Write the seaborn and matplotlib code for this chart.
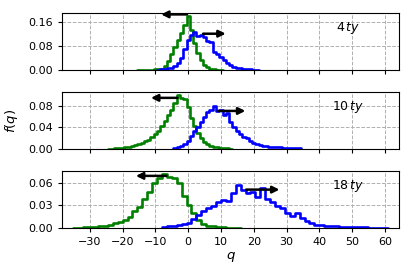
import numpy as np
import pandas as pd
import seaborn as sns
import matplotlib
matplotlib.use("Agg")
import matplotlib.pyplot as plt

# histogram heights: (first bin edge, bin width, heights)
green_4ty = (-15.5, 1.0, [0.0003, 0.0005, 0.0006, 0.0008, 0.001, 0.0015, 0.002, 0.004, 0.012, 0.03,
                          0.055, 0.078, 0.1, 0.124, 0.15, 0.18, 0.136, 0.09, 0.056, 0.034,
                          0.018, 0.009, 0.004, 0.002, 0.001, 0.0005])
blue_4ty = (-9.5, 1.0, [0.001, 0.002, 0.003, 0.005, 0.008, 0.013, 0.022, 0.04, 0.07, 0.1,
                        0.118, 0.127, 0.115, 0.118, 0.11, 0.098, 0.095, 0.062, 0.055, 0.045,
                        0.034, 0.025, 0.017, 0.011, 0.007, 0.005, 0.003, 0.002, 0.0015, 0.001, 0.0008])

green_10ty = (-24.5, 1.0, [0.0005, 0.0008, 0.001, 0.0015, 0.002, 0.003, 0.004, 0.005, 0.007, 0.009,
                           0.011, 0.014, 0.017, 0.022, 0.027, 0.033, 0.042, 0.052, 0.063, 0.073,
                           0.085, 0.1, 0.095, 0.093, 0.078, 0.058, 0.042, 0.03, 0.02, 0.013,
                           0.009, 0.006, 0.004, 0.003, 0.002, 0.0015, 0.001, 0.0008])
blue_10ty = (-4.5, 1.0, [0.001, 0.003, 0.005, 0.01, 0.015, 0.025, 0.033, 0.04, 0.05, 0.06,
                         0.068, 0.072, 0.08, 0.07, 0.073, 0.063, 0.067, 0.05, 0.04, 0.033,
                         0.028, 0.022, 0.02, 0.015, 0.012, 0.01, 0.008, 0.006, 0.005, 0.004,
                         0.004, 0.003, 0.003, 0.002, 0.002, 0.002, 0.001, 0.001, 0.001])

green_18ty = (-35.0, 1.5, [0.0003, 0.0005, 0.0008, 0.001, 0.0015, 0.002, 0.003, 0.004, 0.006, 0.008,
                           0.011, 0.015, 0.022, 0.028, 0.038, 0.048, 0.059, 0.066, 0.071, 0.068,
                           0.066, 0.06, 0.042, 0.03, 0.02, 0.011, 0.005, 0.003, 0.002, 0.001,
                           0.0008, 0.0005, 0.0003, 0.0002])
blue_18ty = (-8.0, 1.5, [0.001, 0.002, 0.003, 0.004, 0.005, 0.007, 0.012, 0.017, 0.022, 0.026,
                         0.029, 0.034, 0.037, 0.036, 0.046, 0.057, 0.05, 0.046, 0.048, 0.041,
                         0.053, 0.038, 0.035, 0.029, 0.026, 0.02, 0.016, 0.02, 0.013, 0.009,
                         0.006, 0.004, 0.004, 0.003, 0.002, 0.002, 0.0015, 0.0012, 0.001, 0.001,
                         0.0012, 0.0008, 0.0006, 0.0005, 0.0004, 0.0003])

labels = [r"$4\,ty$", r"$10\,ty$", r"$18\,ty$"]
ylims = [0.192, 0.106, 0.0755]
yticks = [[0.0, 0.08, 0.16], [0.0, 0.04, 0.08], [0.0, 0.03, 0.06]]
# arrows: (tail x, head x, y)
green_arrows = [(0.5, -9.1, 0.187), (-2.4, -12.2, 0.095), (-5.8, -16.8, 0.069)]
blue_arrows = [(3.7, 12.3, 0.122), (8.2, 18.3, 0.0707), (16.8, 28.7, 0.0508)]


def draw_hist(ax, series, color):
    start, width, vals = series
    edges = start + width * np.arange(len(vals) + 1)
    df = pd.DataFrame({"q": edges[:-1] + width / 2, "f": vals})
    sns.histplot(data=df, x="q", weights="f", bins=list(edges), element="step", fill=False,
                 color=color, lw=1.9, ax=ax)


sns.set_style("ticks", {"text.color": "black", "axes.edgecolor": "black",
                        "xtick.color": "black", "ytick.color": "black",
                        "axes.labelcolor": "black"})
plt.rcParams["font.family"] = ["DejaVu Sans"]
plt.rcParams["font.size"] = 8

fig, axes = plt.subplots(3, 1, figsize=(4.13, 2.75), dpi=100, sharex=True)
fig.subplots_adjust(left=0.150, right=0.966, top=0.953, bottom=0.171, hspace=0.386)

panels = [(green_4ty, blue_4ty), (green_10ty, blue_10ty), (green_18ty, blue_18ty)]
for i, ax in enumerate(axes):
    g, b = panels[i]
    draw_hist(ax, g, "green")
    draw_hist(ax, b, "blue")
    for tail, head, y in [green_arrows[i], blue_arrows[i]]:
        ax.annotate("", xy=(head, y), xytext=(tail, y),
                    arrowprops=dict(arrowstyle="-|>", color="black", lw=1.8, mutation_scale=10))
    ax.text(0.85, 0.73, labels[i], transform=ax.transAxes, ha="center", va="center", fontsize=9)
    ax.set_ylim(0, ylims[i])
    ax.set_yticks(yticks[i])
    ax.yaxis.set_major_formatter(matplotlib.ticker.FormatStrFormatter("%.2f"))
    ax.set_xlim(-38.5, 64.3)
    ax.set_xticks([-30, -20, -10, 0, 10, 20, 30, 40, 50, 60])
    ax.grid(True, ls="--", color="#b0b0b0", lw=0.7)
    ax.set_ylabel("")
    ax.set_xlabel("")
    ax.tick_params(labelsize=8, length=3)
    for s in ax.spines.values():
        s.set_visible(True)
        s.set_linewidth(0.8)

axes[1].set_ylabel(r"$f(q)$", fontsize=9.5, labelpad=6)
axes[2].set_xlabel(r"$q$", fontsize=9.5, labelpad=2)

fig.savefig("out.png", dpi=100)
